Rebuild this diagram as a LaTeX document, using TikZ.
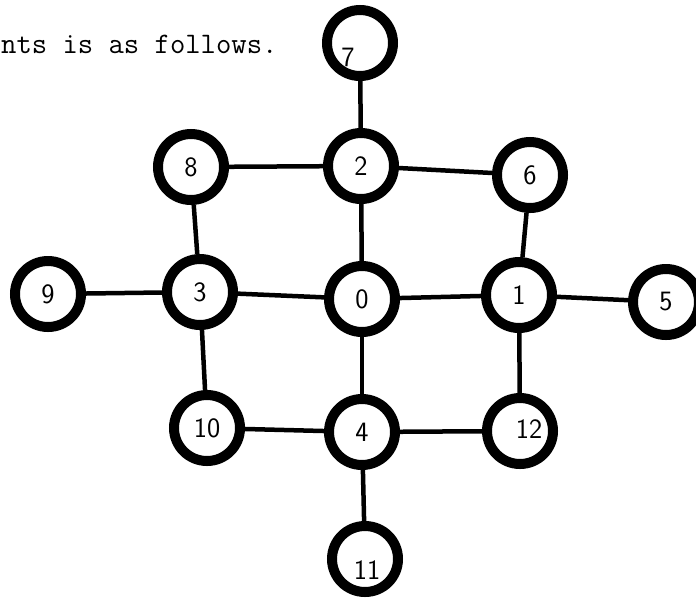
\documentclass[tikz,border=0pt]{standalone}
\usepackage{fontspec}
\begin{document}
\begin{tikzpicture}[x=1pt,y=-1pt,
  digits/.style={font=\sffamily\fontsize{28}{32}\selectfont},
  ring/.style={circle,draw=black,line width=10pt,minimum size=66pt,inner sep=0pt,digits},
  every label/.style={digits},
  link/.style={line width=4.5pt}]
\useasboundingbox (0,0) rectangle (696,598);
\node[anchor=base west,inner sep=0pt,font=\ttfamily\addfontfeatures{FakeBold=1.2}\fontsize{29.8}{32}\selectfont] (txt) at (1,53) {nts is as follows.};
\node[ring,label={[xshift=-12pt,yshift=-14pt]center:7}] (n7) at (360,43) {};
\node[ring] (n2) at (361,166) {2};
\node[ring] (n8) at (191,167) {8};
\node[ring] (n6) at (530,175) {6};
\node[ring] (n9) at (48,294) {9};
\node[ring] (n3) at (200,292) {3};
\node[ring] (n0) at (362,299) {0};
\node[ring] (n1) at (519,295) {1};
\node[ring] (n5) at (666,302) {5};
\node[ring] (n10) at (207,428) {10};
\node[ring] (n4) at (362,432) {4};
\node[ring,label={[xshift=9pt,yshift=2pt]center:12}] (n12) at (520,431) {};
\node[ring,label={[xshift=2pt,yshift=-11pt]center:11}] (n11) at (365,559) {};
\draw[link] (n7) -- (n2);
\draw[link] (n8) -- (n2);
\draw[link] (n2) -- (n6);
\draw[link] (n2) -- (n0);
\draw[link] (n8) -- (n3);
\draw[link] (n6) -- (n1);
\draw[link] (n9) -- (n3);
\draw[link] (n3) -- (n0);
\draw[link] (n0) -- (n1);
\draw[link] (n1) -- (n5);
\draw[link] (n3) -- (n10);
\draw[link] (n0) -- (n4);
\draw[link] (n1) -- (n12);
\draw[link] (n10) -- (n4);
\draw[link] (n4) -- (n12);
\draw[link] (n4) -- (n11);
\end{tikzpicture}
\end{document}
